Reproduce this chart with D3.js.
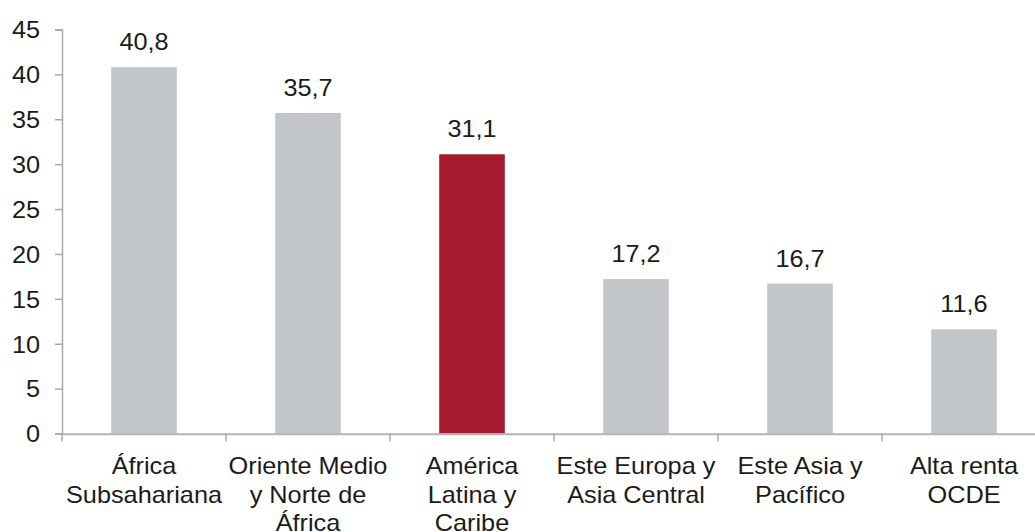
<!DOCTYPE html>
<html>
<head>
<meta charset="utf-8">
<script src="https://cdn.jsdelivr.net/npm/d3@7/dist/d3.min.js"></script>
<style>
  html, body { margin: 0; padding: 0; background: #fff; }
  svg { display: block; }
  text { font-family: "Liberation Sans", Arial, Helvetica, sans-serif; fill: #1b1b1b; }
</style>
</head>
<body>
<svg id="chart" width="1035" height="532"></svg>
<script>
// Regions, shown as wrapped labels under each bar
const regions = [
  "África Subsahariana",
  "Oriente Medio y Norte de África",
  "América Latina y Caribe",
  "Este Europa y Asia Central",
  "Este Asia y Pacífico",
  "Alta renta OCDE"
];
const regionLines = [
  ["África", "Subsahariana"],
  ["Oriente Medio", "y Norte de", "África"],
  ["América", "Latina y", "Caribe"],
  ["Este Europa y", "Asia Central"],
  ["Este Asia y", "Pacífico"],
  ["Alta renta", "OCDE"]
];
const values = [40.8, 35.7, 31.1, 17.2, 16.7, 11.6];
const highlighted = ["América Latina y Caribe"];
const yTicks = [0, 5, 10, 15, 20, 25, 30, 35, 40, 45];

const svg = d3.select("#chart");
const plotLeft = 62, plotRight = 1046, plotTop = 29.5, plotBottom = 433.5;
const fontSize = 23, stretch = 1.1;

const x = d3.scaleBand()
  .domain(regions)
  .range([plotLeft, plotRight])
  .paddingInner(0.6)
  .paddingOuter(0.3);

const y = d3.scaleLinear().domain([0, 45]).range([plotBottom, plotTop]);

const comma = d3.formatLocale({ decimal: ",", thousands: ".", grouping: [3], currency: ["", "€"] }).format(".1f");

// Bars
svg.append("g").selectAll("rect")
  .data(regions)
  .join("rect")
  .attr("x", d => x(d))
  .attr("width", x.bandwidth())
  .attr("y", (d, i) => y(values[i]))
  .attr("height", (d, i) => y(0) - y(values[i]))
  .attr("fill", d => highlighted.includes(d) ? "#a51a2e" : "#c2c6c9");

// Value labels above bars
svg.append("g").selectAll("text")
  .data(regions)
  .join("text")
  .attr("transform", (d, i) => `translate(${x(d) + x.bandwidth() / 2},${y(values[i]) - 17}) scale(${stretch},1)`)
  .attr("text-anchor", "middle")
  .style("font-size", fontSize + "px")
  .text((d, i) => comma(values[i]));

// Y axis
const yAxis = svg.append("g")
  .attr("transform", `translate(${plotLeft},0)`)
  .call(d3.axisLeft(y).tickValues(yTicks).tickSize(7).tickPadding(15).tickFormat(d3.format("d")));
yAxis.select(".domain").attr("stroke", "#a9a9a9").attr("stroke-width", 1.5);
yAxis.selectAll(".tick line").attr("stroke", "#a9a9a9").attr("stroke-width", 1.5);
yAxis.selectAll(".tick text")
  .attr("x", -22 / stretch)
  .attr("dy", "0.36em")
  .attr("transform", `scale(${stretch},1)`)
  .style("font-size", fontSize + "px")
  .attr("fill", "#1b1b1b");

// X axis baseline with ticks at category boundaries
const boundaries = d3.range(regions.length + 1).map(i => plotLeft + i * x.step());
const xAxis = svg.append("g");
xAxis.append("line")
  .attr("x1", plotLeft).attr("x2", plotRight)
  .attr("y1", y(0) + 0.75).attr("y2", y(0) + 0.75)
  .attr("stroke", "#b3b3b3").attr("stroke-width", 2);
xAxis.selectAll("line.tick")
  .data(boundaries)
  .join("line")
  .attr("class", "tick")
  .attr("x1", d => d).attr("x2", d => d)
  .attr("y1", y(0)).attr("y2", y(0) + 8)
  .attr("stroke", "#a9a9a9").attr("stroke-width", 1.5);

// Category labels
const lineGap = 28.5;
const cat = svg.append("g").selectAll("g")
  .data(regions)
  .join("g")
  .attr("transform", d => `translate(${x(d) + x.bandwidth() / 2},474)`);
cat.each(function (d, i) {
  d3.select(this).selectAll("text")
    .data(regionLines[i])
    .join("text")
    .attr("transform", (t, j) => `translate(0,${j * lineGap}) scale(${stretch},1)`)
    .attr("text-anchor", "middle")
    .style("font-size", fontSize + "px")
    .text(t => t);
});
</script>
</body>
</html>
